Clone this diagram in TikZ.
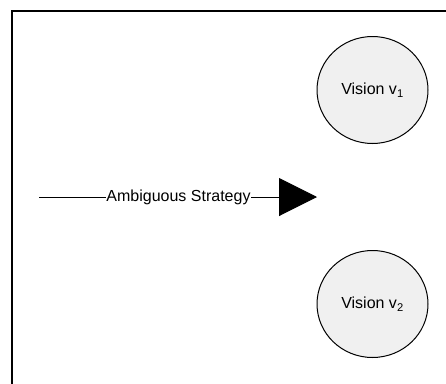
\documentclass[tikz,border=0pt]{standalone}
\usepackage{fontspec}
\setmainfont{Liberation Sans}
\usetikzlibrary{shapes,arrows.meta,positioning}
\definecolor{visionfill}{RGB}{240,240,240}

\begin{document}
\begin{tikzpicture}[x=1pt,y=-1pt,
    font=\fontsize{16}{19}\selectfont,
    vision/.style={ellipse,draw=black,line width=1pt,fill=visionfill,
      minimum width=111pt,minimum height=107pt,inner sep=0pt}]
  \useasboundingbox (0,0) rectangle (446,383);

  % cornice
  \coordinate (fa) at (12,390);
  \coordinate (fb) at (12,10.5);
  \coordinate (fc) at (452,10.5);
  \draw[line width=2pt] (fa) -- (fb) -- (fc);

  % le due visioni
  \node[vision] (v1) at (372.5,90) {Vision v\textsubscript{1}};
  \node[vision] (v2) at (372.5,304) {Vision v\textsubscript{2}};

  % strategia ambigua
  \coordinate (start) at (39,197);
  \coordinate (tip) at (317,197);
  \node[inner sep=0.5pt] (strat) at (178.5,197) {Ambiguous Strategy};
  \draw[line width=1pt] (start) -- (strat);
  \draw[line width=1pt,-{Triangle[length=38pt,width=38pt]}] (strat) -- (tip);
\end{tikzpicture}
\end{document}
